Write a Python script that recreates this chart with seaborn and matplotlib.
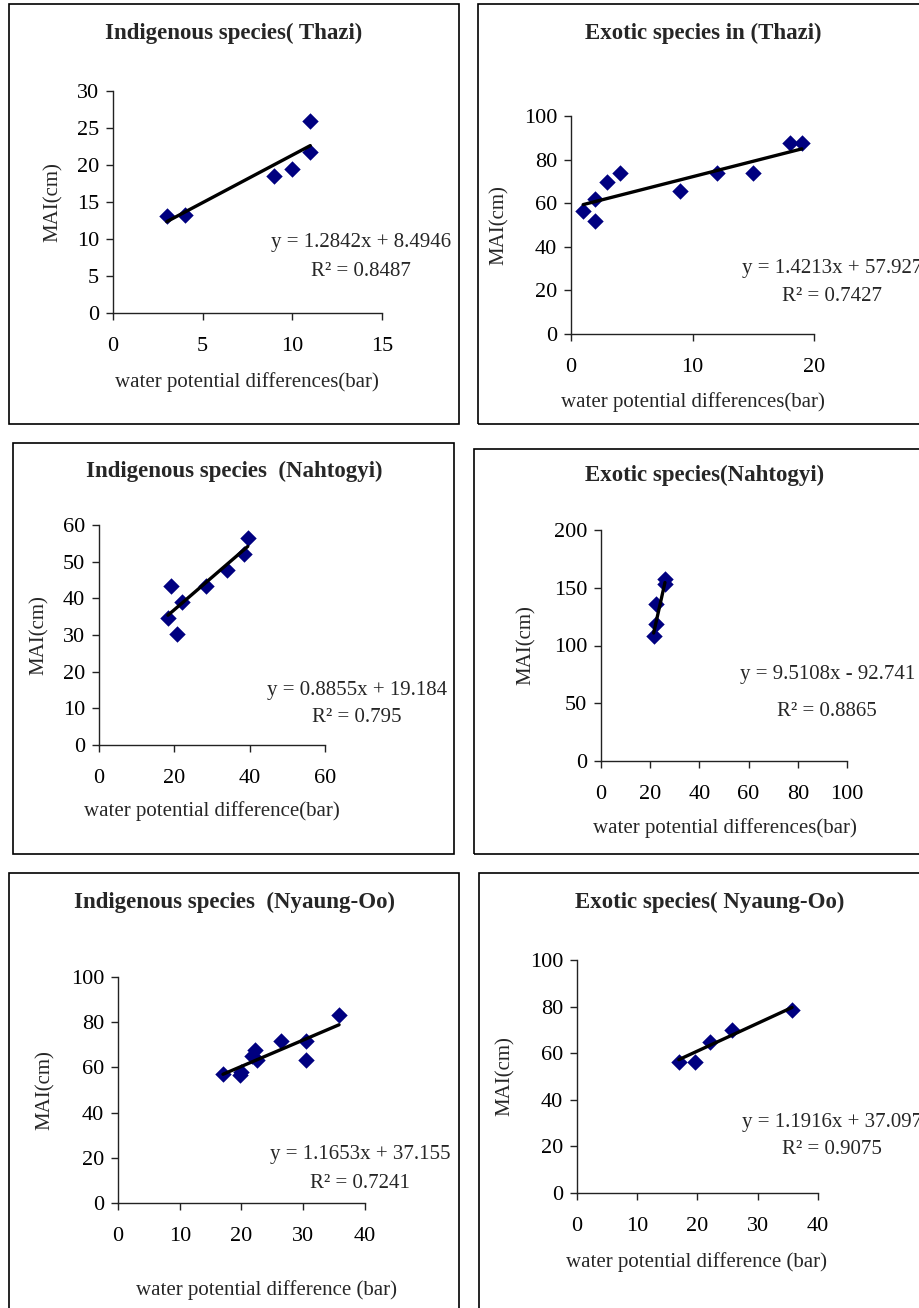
import matplotlib
matplotlib.use("Agg")
import matplotlib.pyplot as plt
from matplotlib.patches import Rectangle
import seaborn as sns
import pandas as pd

sns.set_theme(style="ticks")
plt.rcParams['font.family'] = ['Liberation Serif', 'DejaVu Serif']

# ---------------- data ----------------
titles = ["Indigenous species( Thazi)", "Exotic species in (Thazi)",
          "Indigenous species  (Nahtogyi)", "Exotic species(Nahtogyi)",
          "Indigenous species  (Nyaung-Oo)", "Exotic species( Nyaung-Oo)"]
xlabels = ["water potential differences(bar)", "water potential differences(bar)",
           "water potential difference(bar)", "water potential differences(bar)",
           "water potential difference (bar)", "water potential difference (bar)"]
ylabel = "MAI(cm)"

x1 = [3, 4, 9, 10, 11, 11]
y1 = [13.1, 13.3, 18.5, 19.5, 21.7, 26.0]
x2 = [1, 2, 2, 3, 4, 9, 12, 15, 18, 19]
y2 = [56.5, 61.7, 51.9, 69.8, 74.0, 65.6, 74.0, 74.0, 87.6, 87.6]
x3 = [18.3, 19.2, 20.8, 22.0, 28.5, 33.9, 38.6, 39.5]
y3 = [34.6, 43.4, 30.3, 39.1, 43.4, 47.7, 52.0, 56.5]
x4 = [21.4, 22.3, 22.3, 26.0, 26.0]
y4 = [108.4, 118.2, 135.5, 153.2, 157.2]
x5 = [17.0, 19.7, 20.0, 21.7, 22.2, 22.5, 26.4, 30.5, 30.5, 35.8]
y5 = [56.9, 56.5, 58.0, 65.0, 67.6, 63.2, 71.6, 71.6, 63.2, 83.1]
x6 = [16.9, 19.6, 22.0, 25.7, 35.7]
y6 = [56.3, 56.3, 65.0, 70.0, 78.4]

slopes = [1.2842, 1.4213, 0.8855, 9.5108, 1.1653, 1.1916]
intercepts = [8.4946, 57.927, 19.184, -92.741, 37.155, 37.097]
eq_texts = ["y = 1.2842x + 8.4946", "y = 1.4213x + 57.927", "y = 0.8855x + 19.184",
            "y = 9.5108x - 92.741", "y = 1.1653x + 37.155", "y = 1.1916x + 37.097"]
r2_texts = ["R² = 0.8487", "R² = 0.7427", "R² = 0.795",
            "R² = 0.8865", "R² = 0.7241", "R² = 0.9075"]

xlims = [(0, 15), (0, 20), (0, 60), (0, 100), (0, 40), (0, 40)]
ylims = [(0, 30), (0, 100), (0, 60), (0, 200), (0, 100), (0, 100)]
xsteps = [5, 10, 20, 20, 10, 10]
ysteps = [5, 20, 10, 50, 20, 20]

xs = [x1, x2, x3, x4, x5, x6]
ys = [y1, y2, y3, y4, y5, y6]

# ---------------- layout (pixels) ----------------
W, H = 920, 1308
fig = plt.figure(figsize=(W / 100, H / 100), dpi=100)

# axes: left, right, top, bottom
axes_px = [(113, 382, 91, 313), (571, 814, 116, 334), (99, 325, 525, 745),
           (601, 847, 530, 761), (118, 365, 977, 1203), (577, 818, 960, 1193)]
# boxes: left, top, right, bottom
boxes_px = [(9, 4, 459, 424), (478, 4, 930, 424), (13, 443, 454, 854),
            (474, 449, 930, 854), (9, 873, 459, 1320), (479, 873, 930, 1320)]
title_px = [(234, 33), (703, 33), (234, 471), (705, 475), (235, 902), (710, 902)]
xlab_px = [(247, 382), (693, 402), (212, 811), (725, 828), (267, 1290), (697, 1262)]
ylab_px = [53, 499, 39, 526, 45, 505]
eq_px = [(361, 243), (832, 269), (357, 691), (828, 675), (360, 1155), (832, 1123)]
r2_px = [(361, 271), (832, 296), (357, 717), (827, 711), (360, 1183), (832, 1149)]

def fx(px):
    return px / W

def fy(py):
    return 1 - py / H

FS = 15

for (bl, bt, br, bb) in boxes_px:
    fig.patches.append(Rectangle((fx(bl), fy(bb)), fx(br - bl), (bb - bt) / H,
                                 transform=fig.transFigure, fill=False,
                                 edgecolor="black", linewidth=1.2, zorder=0))

for i in range(6):
    l, r, t, b = axes_px[i]
    ax = fig.add_axes([fx(l), fy(b), fx(r - l), (b - t) / H])
    df = pd.DataFrame({"x": xs[i], "y": ys[i]})
    xmin, xmax = min(xs[i]), max(xs[i])
    line_df = pd.DataFrame({"x": [xmin, xmax],
                            "y": [slopes[i] * xmin + intercepts[i],
                                  slopes[i] * xmax + intercepts[i]]})
    sns.scatterplot(data=df, x="x", y="y", ax=ax, marker="D", s=70,
                    color="#000080", edgecolor="#000080", linewidth=0, zorder=2)
    sns.lineplot(data=line_df, x="x", y="y", ax=ax, color="black",
                 linewidth=2.4, zorder=3)
    ax.set_xlim(*xlims[i])
    ax.set_ylim(*ylims[i])
    ax.set_xticks(range(xlims[i][0], xlims[i][1] + 1, xsteps[i]))
    ax.set_yticks(range(ylims[i][0], ylims[i][1] + 1, ysteps[i]))
    sns.despine(ax=ax)
    for sp in ("left", "bottom"):
        ax.spines[sp].set_linewidth(1.0)
        ax.spines[sp].set_color("#222222")
    ax.tick_params(axis="both", direction="out", length=5, width=1.0,
                   colors="#222222", labelsize=16, labelcolor="black")
    ax.tick_params(axis="x", pad=12.5)
    ax.tick_params(axis="y", pad=5)
    ax.set_xlabel("")
    ax.set_ylabel("")
    ax.patch.set_alpha(0)

    fig.text(fx(xlab_px[i][0]), fy(xlab_px[i][1]), xlabels[i], ha="center",
             va="center", fontsize=FS)
    fig.text(fx(ylab_px[i]), fy((t + b) / 2), ylabel, ha="center", va="center",
             rotation=90, fontsize=FS)
    fig.text(fx(title_px[i][0]), fy(title_px[i][1]), titles[i], ha="center",
             va="center", fontsize=16.5, fontweight="bold")
    fig.text(fx(eq_px[i][0]), fy(eq_px[i][1]), eq_texts[i], ha="center",
             va="center", fontsize=FS)
    fig.text(fx(r2_px[i][0]), fy(r2_px[i][1]), r2_texts[i], ha="center",
             va="center", fontsize=FS)

fig.savefig("out.png", dpi=100, facecolor="white")
